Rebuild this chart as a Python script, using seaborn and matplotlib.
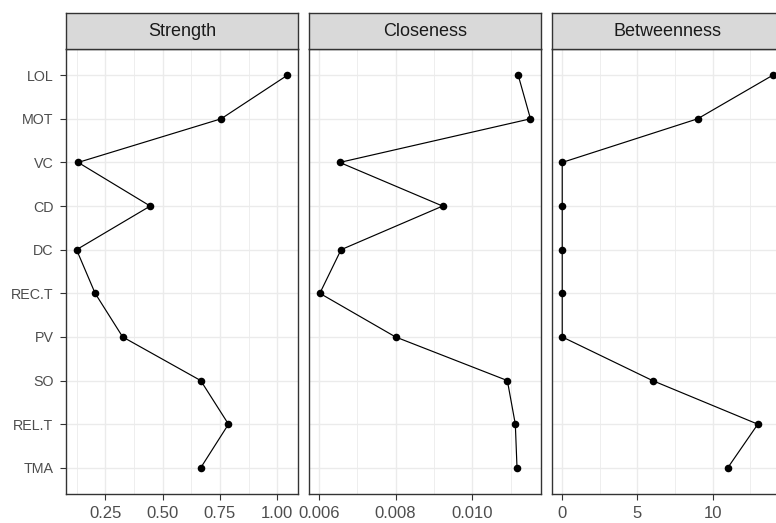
import numpy as np
import pandas as pd
import matplotlib
matplotlib.use("Agg")
import matplotlib.pyplot as plt
import seaborn as sns

nodes = ["LOL", "MOT", "VC", "CD", "DC", "REC.T", "PV", "SO", "REL.T", "TMA"]
strength = [1.044, 0.755, 0.132, 0.446, 0.125, 0.206, 0.326, 0.666, 0.787, 0.666]
closeness = [0.01120, 0.01152, 0.006545, 0.009229, 0.00658, 0.006026, 0.00800, 0.010917, 0.011125, 0.011169]
betweenness = [14, 9, 0, 0, 0, 0, 0, 6, 13, 11]
measures = ["Strength", "Closeness", "Betweenness"]

df = pd.DataFrame({
    "node": nodes * 3,
    "pos": list(range(len(nodes))) * 3,
    "measure": np.repeat(measures, len(nodes)),
    "value": strength + closeness + betweenness,
})

sns.set_theme(style="white")
plt.rcParams["font.family"] = ["Liberation Sans", "DejaVu Sans"]

W, H = 776, 523
fig = plt.figure(figsize=(W / 100, H / 100), dpi=100)

panels = [(66, 298), (309.3, 541), (551.7, 783.4)]
top, bottom, strip_top = 49, 494, 13

xticks = {
    "Strength": ([0.25, 0.50, 0.75, 1.00], ["0.25", "0.50", "0.75", "1.00"], [0.125, 0.375, 0.625, 0.875]),
    "Closeness": ([0.006, 0.008, 0.010], ["0.006", "0.008", "0.010"], [0.007, 0.009, 0.011]),
    "Betweenness": ([0, 5, 10], ["0", "5", "10"], [2.5, 7.5, 12.5]),
}

border = "#333333"
for i, (m, (l, r)) in enumerate(zip(measures, panels)):
    ax = fig.add_axes([l / W, (H - bottom) / H, (r - l) / W, (bottom - top) / H])
    sub = df[df["measure"] == m]
    sns.lineplot(data=sub, x="value", y="pos", sort=False, estimator=None,
                 color="black", linewidth=0.85, ax=ax)
    sns.scatterplot(data=sub, x="value", y="pos", color="black", s=30,
                    edgecolor="black", linewidth=0, ax=ax, zorder=3)
    v = sub["value"].to_numpy()
    rng = v.max() - v.min()
    maj, lab, minor = xticks[m]
    ax.set_xticks(maj)
    ax.set_xticklabels(lab)
    ax.set_xticks(minor, minor=True)
    ax.set_xlim(v.min() - 0.05 * rng, v.max() + 0.05 * rng)
    ax.set_yticks(range(len(nodes)))
    ax.set_ylim(len(nodes) - 1 + 0.6, -0.6)
    if i == 0:
        ax.set_yticklabels(nodes)
        ax.tick_params(axis="y", left=True, length=4.5, width=0.8, color=border,
                       labelsize=10.3, labelcolor="#4D4D4D", pad=4.5)
    else:
        ax.set_yticklabels([])
        ax.tick_params(axis="y", left=False, length=0)
    ax.tick_params(axis="x", bottom=True, length=4.5, width=0.8, color=border,
                   labelsize=12, labelcolor="#4D4D4D", pad=4.5)
    ax.tick_params(axis="x", which="minor", bottom=False)
    ax.grid(True, which="major", color="#EBEBEB", linewidth=1.0)
    ax.grid(True, which="minor", axis="x", color="#EBEBEB", linewidth=0.6)
    ax.set_axisbelow(True)
    ax.set_xlabel("")
    ax.set_ylabel("")
    for s in ax.spines.values():
        s.set_color(border)
        s.set_linewidth(1.0)
        s.set_visible(True)

    sax = fig.add_axes([l / W, (H - top) / H, (r - l) / W, (top - strip_top) / H])
    sax.set_facecolor("#D9D9D9")
    sax.set_xticks([])
    sax.set_yticks([])
    for s in sax.spines.values():
        s.set_color(border)
        s.set_linewidth(1.0)
        s.set_visible(True)
    sax.text(0.5, 0.5, m, ha="center", va="center", fontsize=13,
             color="#1A1A1A", transform=sax.transAxes)

fig.savefig("out.png", dpi=100)
